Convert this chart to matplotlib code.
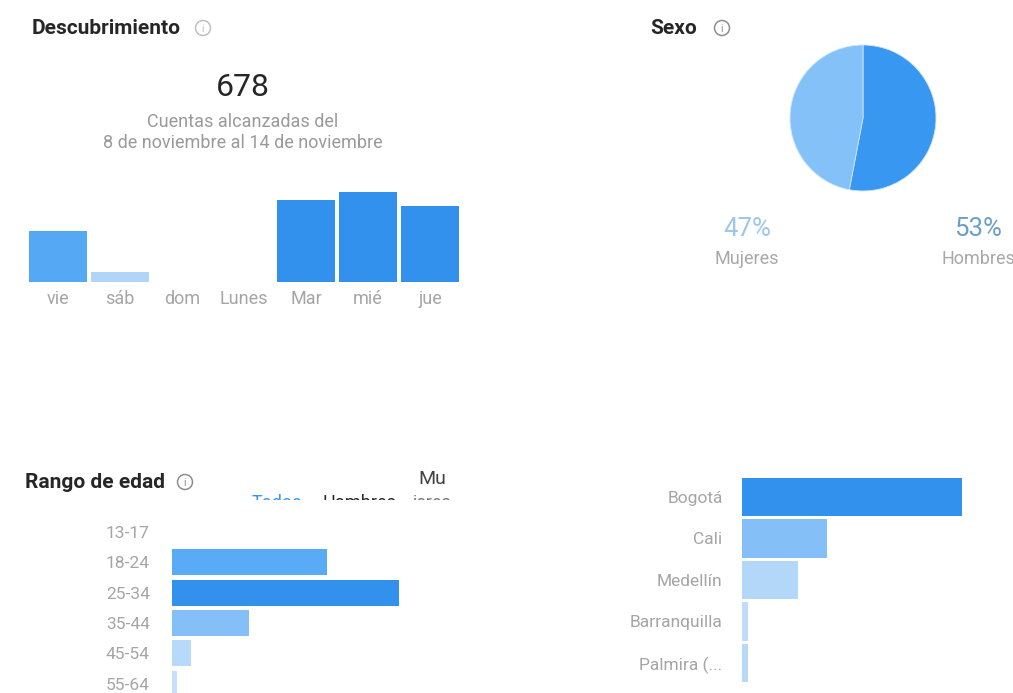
import matplotlib
matplotlib.use("Agg")
import matplotlib.pyplot as plt
from matplotlib.patches import Circle, Rectangle

plt.rcParams['font.family'] = ['Roboto', 'DejaVu Sans']

# Descubrimiento: cuentas alcanzadas por día
dias = ["vie", "sáb", "dom", "Lunes", "Mar", "mié", "jue"]
alcance = [51, 10, 0, 0, 82, 90, 76]
colores_dias = ["#55a8f4", "#b0d5f8", "#3391ee", "#3391ee", "#3391ee", "#3391ee", "#3391ee"]

# Sexo
sexo = ["Hombres", "Mujeres"]
sexo_pct = [53, 47]

# Rango de edad (%)
edades = ["13-17", "18-24", "25-34", "35-44", "45-54", "55-64"]
edad_pct = [0, 32, 47, 16, 4, 1]
colores_edad = ["#3391ee", "#5aabf5", "#3391ee", "#85bff7", "#b8dafa", "#c4e0fb"]

# Ciudades (%)
ciudades = ["Bogotá", "Cali", "Medellín", "Barranquilla", "Palmira (..."]
ciudad_pct = [36, 14, 9.2, 1, 1]
colores_ciudad = ["#3391ee", "#85bff7", "#b3d7f8", "#c0dcf8", "#b8d8f8"]

W, H = 1013, 693
TITULO = "#262626"
GRIS = "#9a9a9a"


def caja(x0, y0, x1, y1):
    # rectángulo en píxeles (origen arriba a la izquierda) -> coordenadas de figura
    return [x0 / W, 1 - y1 / H, (x1 - x0) / W, (y1 - y0) / H]


def icono_info(ax, x, y, color="#8e8e8e"):
    ax.add_patch(Circle((x, y), 7.5, facecolor="none", edgecolor=color, lw=1.1))
    ax.text(x, y + 0.5, "i", ha="center", va="center", fontsize=7.5, color=color)


def limpiar(ax):
    for s in ax.spines.values():
        s.set_visible(False)
    ax.patch.set_alpha(0)


fig = plt.figure(figsize=(W / 100, H / 100), dpi=100)
fig.patch.set_facecolor("white")

# capa de fondo en píxeles para textos e iconos
bg = fig.add_axes([0, 0, 1, 1])
bg.set_xlim(0, W)
bg.set_ylim(H, 0)
bg.axis("off")

# --- Descubrimiento ---
bg.text(32, 29, "Descubrimiento", fontsize=15, fontweight="bold", color=TITULO, va="center")
icono_info(bg, 203, 28, color="#c0c0c0")
bg.text(243, 88, "678", fontsize=23, color=TITULO, ha="center", va="center")
bg.text(243, 122, "Cuentas alcanzadas del", fontsize=13, color=GRIS, ha="center", va="center")
bg.text(243, 143, "8 de noviembre al 14 de noviembre", fontsize=13, color=GRIS, ha="center", va="center")

ax1 = fig.add_axes(caja(27, 182, 461, 282))
ax1.bar(range(len(dias)), alcance, width=0.935, color=colores_dias)
ax1.set_xlim(-0.5, len(dias) - 0.5)
ax1.set_ylim(0, 100)
ax1.set_xticks(range(len(dias)))
ax1.set_xticklabels(dias, fontsize=13, color="#a5a5a5")
ax1.tick_params(length=0, pad=6)
ax1.set_yticks([])
limpiar(ax1)

# --- Sexo ---
bg.text(650, 29, "Sexo", fontsize=15, fontweight="bold", color=TITULO, va="center")
icono_info(bg, 722, 28)

ax2 = fig.add_axes(caja(790, 45, 936, 191))
ax2.pie(sexo_pct, colors=["#3897f0", "#85c1f9"], startangle=90, counterclock=False,
        wedgeprops=dict(edgecolor="#cfe6fc", linewidth=0.6))
ax2.set_xlim(-1, 1)
ax2.set_ylim(-1, 1)

bg.text(747, 229, f"{sexo_pct[1]}%", fontsize=18.5, color="#9cc6ea", ha="center", va="center")
bg.text(747, 259, sexo[1], fontsize=13, color="#a8a8a8", ha="center", va="center")
bg.text(978, 229, f"{sexo_pct[0]}%", fontsize=18.5, color="#6a9fcb", ha="center", va="center")
bg.text(978, 259, sexo[0], fontsize=13, color="#a8a8a8", ha="center", va="center")

# --- Rango de edad ---
bg.text(25, 483, "Rango de edad", fontsize=15, fontweight="bold", color=TITULO, va="center")
icono_info(bg, 185, 482)
bg.text(432, 479, "Mu", fontsize=14, color="#444444", ha="center", va="center")
# pestañas cortadas por el borde de la vista
for txt, x, col in [("Todos", 277, "#3897f0"), ("Hombres", 359, "#262626"), ("jeres", 432, "#777777")]:
    bg.text(x, 494, txt, fontsize=13, color=col, ha="center", va="top", zorder=2)
bg.add_patch(Rectangle((240, 499.5), 230, 14, facecolor="white", edgecolor="none", zorder=3))

paso_edad = 30.4
ax3 = fig.add_axes(caja(172, 516.6, 172 + 4.83 * 50, H))
ax3.barh(range(len(edades)), edad_pct, height=0.85, color=colores_edad)
ax3.set_xlim(0, 50)
ax3.set_ylim((H - 516.6) / paso_edad - 0.5, -0.5)
ax3.set_yticks(range(len(edades)))
ax3.set_yticklabels(edades, fontsize=12.5, color="#a5a5a5")
ax3.tick_params(length=0, pad=16)
ax3.set_xticks([])
limpiar(ax3)

# --- Ciudades ---
ax4 = fig.add_axes(caja(742, 476.25, 742 + 6.1 * 40, H))
ax4.barh(range(len(ciudades)), ciudad_pct, height=0.92, color=colores_ciudad)
ax4.set_xlim(0, 40)
ax4.set_ylim((H - 476.25) / 41.5 - 0.5, -0.5)
ax4.set_yticks(range(len(ciudades)))
ax4.set_yticklabels(ciudades, fontsize=12.5, color="#a5a5a5")
ax4.tick_params(length=0, pad=14)
ax4.set_xticks([])
limpiar(ax4)

fig.savefig("out.png", dpi=100, facecolor="white")
